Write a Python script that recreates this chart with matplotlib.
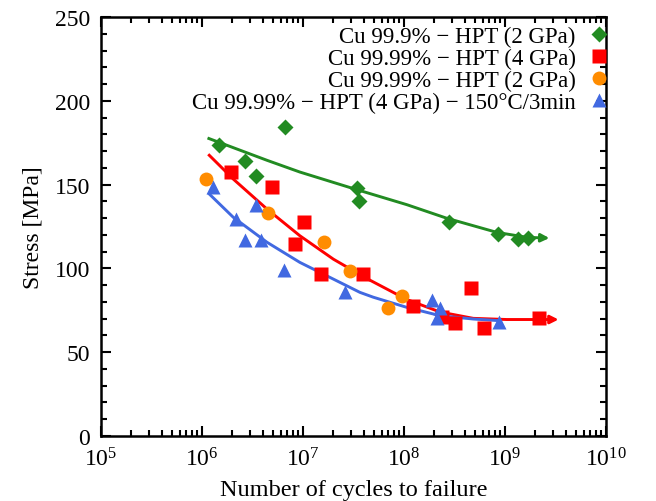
import matplotlib
matplotlib.use("Agg")
import matplotlib.pyplot as plt
from matplotlib.ticker import LogLocator, MultipleLocator, LogFormatterMathtext, NullFormatter

plt.rcParams["font.family"] = ["Liberation Serif", "DejaVu Serif"]
plt.rcParams["mathtext.fontset"] = "stix"

# measured points (cycles to failure, stress in MPa)
cu999_2gpa_n = [1.47e6, 2.67e6, 3.43e6, 6.7e6, 3.4e7, 3.6e7, 2.8e8, 8.5e8, 1.33e9, 1.7e9]
cu999_2gpa_s = [173.6, 164, 155, 184.5, 148, 140, 127.5, 120.3, 117.4, 118.3]

cu9999_4gpa_n = [1.92e6, 4.9e6, 1.02e7, 8.3e6, 1.5e7, 3.95e7, 1.22e8, 2.38e8, 3.2e8, 6.24e8, 4.6e8, 2.17e9]
cu9999_4gpa_s = [157.3, 148.4, 127.5, 114.6, 96.4, 96.7, 77.7, 71, 67.4, 64.3, 88.1, 70.2]

cu9999_2gpa_n = [1.1e6, 4.54e6, 1.63e7, 2.92e7, 7.0e7, 9.55e7]
cu9999_2gpa_s = [153.3, 133, 116, 98.3, 76.2, 83.3]

cu9999_ann_n = [1.29e6, 2.17e6, 3.43e6, 2.67e6, 3.84e6, 6.53e6, 2.63e7, 1.9e8, 2.29e8, 2.14e8, 8.67e8]
cu9999_ann_s = [148.4, 129.5, 137.8, 117.1, 117.1, 99.2, 86.1, 81.1, 76.2, 70.2, 67.8]

# fitted curves (last point of green/red = arrow tip)
fit_green_n = [1.17e6, 4.4e6, 9.3e6, 3.2e7, 1.07e8, 2.63e8, 8.3e8, 1.66e9, 2.75e9]
fit_green_s = [177.5, 164.5, 157.5, 147.5, 138, 130, 121.5, 118.5, 118.1]

fit_red_n = [1.18e6, 2.04e6, 4.4e6, 9.3e6, 2.0e7, 4.27e7, 1.06e8, 2.27e8, 4.85e8, 1.04e9, 2.24e9, 3.39e9]
fit_red_s = [167.5, 153.3, 135.4, 119.5, 105.5, 94, 81.5, 74, 70.2, 69.5, 69.5, 69.5]

fit_blue_n = [1.18e6, 2.04e6, 4.4e6, 9.3e6, 2.0e7, 3.66e7, 4.97e7, 1.06e8, 2.27e8, 4.85e8, 8.9e8]
fit_blue_s = [144.4, 130.5, 115.6, 103.6, 93.6, 85.7, 82.8, 76.8, 71.8, 69.8, 68.8]

labels = [
    "Cu 99.9% \u2212 HPT (2 GPa)",
    "Cu 99.99% \u2212 HPT (4 GPa)",
    "Cu 99.99% \u2212 HPT (2 GPa)",
    "Cu 99.99% \u2212 HPT (4 GPa) \u2212 150\u00b0C/3min",
]
colors = ["#228B22", "#FF0000", "#FF8C00", "#4169E1"]

fig = plt.figure(figsize=(6.56, 5.02), dpi=100)
ax = fig.add_axes([101 / 656, 65 / 502, 505 / 656, 419 / 502])

lw = 2.1
arrow = dict(arrowstyle="-|>", lw=lw, mutation_scale=12, shrinkA=0, shrinkB=0)
# fit lines (arrow at end for run-outs)
ax.plot(fit_green_n[:-1], fit_green_s[:-1], color=colors[0], lw=lw, zorder=2)
ax.annotate("", xy=(fit_green_n[-1], fit_green_s[-1]), xytext=(fit_green_n[-2], fit_green_s[-2]),
            arrowprops=dict(arrow, color=colors[0]))
ax.plot(fit_red_n[:-1], fit_red_s[:-1], color=colors[1], lw=lw, zorder=2)
ax.annotate("", xy=(fit_red_n[-1], fit_red_s[-1]), xytext=(fit_red_n[-2], fit_red_s[-2]),
            arrowprops=dict(arrow, color=colors[1]))
ax.plot(fit_blue_n, fit_blue_s, color=colors[3], lw=lw, zorder=2)

h1, = ax.plot(cu999_2gpa_n, cu999_2gpa_s, "D", color=colors[0], ms=8, mec="none", zorder=3)
h2, = ax.plot(cu9999_4gpa_n, cu9999_4gpa_s, "s", color=colors[1], ms=9.5, mec="none", zorder=3)
h3, = ax.plot(cu9999_2gpa_n, cu9999_2gpa_s, "o", color=colors[2], ms=10, mec="none", zorder=3)
h4, = ax.plot(cu9999_ann_n, cu9999_ann_s, "^", color=colors[3], ms=10.5, mec="none", zorder=3)

ax.set_xscale("log")
ax.set_xlim(1e5, 1e10)
ax.set_ylim(0, 250)
ax.xaxis.set_major_locator(LogLocator(base=10, numticks=10))
ax.xaxis.set_minor_locator(LogLocator(base=10, subs=range(2, 10), numticks=20))
ax.xaxis.set_major_formatter(LogFormatterMathtext())
ax.xaxis.set_minor_formatter(NullFormatter())
ax.yaxis.set_major_locator(MultipleLocator(50))
ax.yaxis.set_minor_locator(MultipleLocator(10))

ax.tick_params(which="both", direction="in", top=True, right=True, labelsize=17, width=1.5)
ax.tick_params(which="major", length=7, pad=8)
ax.tick_params(which="minor", length=4)
for sp in ax.spines.values():
    sp.set_linewidth(1.8)

ax.set_xlabel("Number of cycles to failure", fontsize=17.5, labelpad=6)
ax.set_ylabel("Stress [MPa]", fontsize=17, labelpad=8)

ax.legend([h1, h2, h3, h4], labels, loc="upper right", bbox_to_anchor=(1.022, 1.0),
          frameon=False, markerfirst=False, fontsize=16.5, handlelength=0.8,
          handletextpad=0.6, labelspacing=0.03, borderaxespad=0.2, borderpad=0.2)

fig.savefig("out.png", dpi=100)
